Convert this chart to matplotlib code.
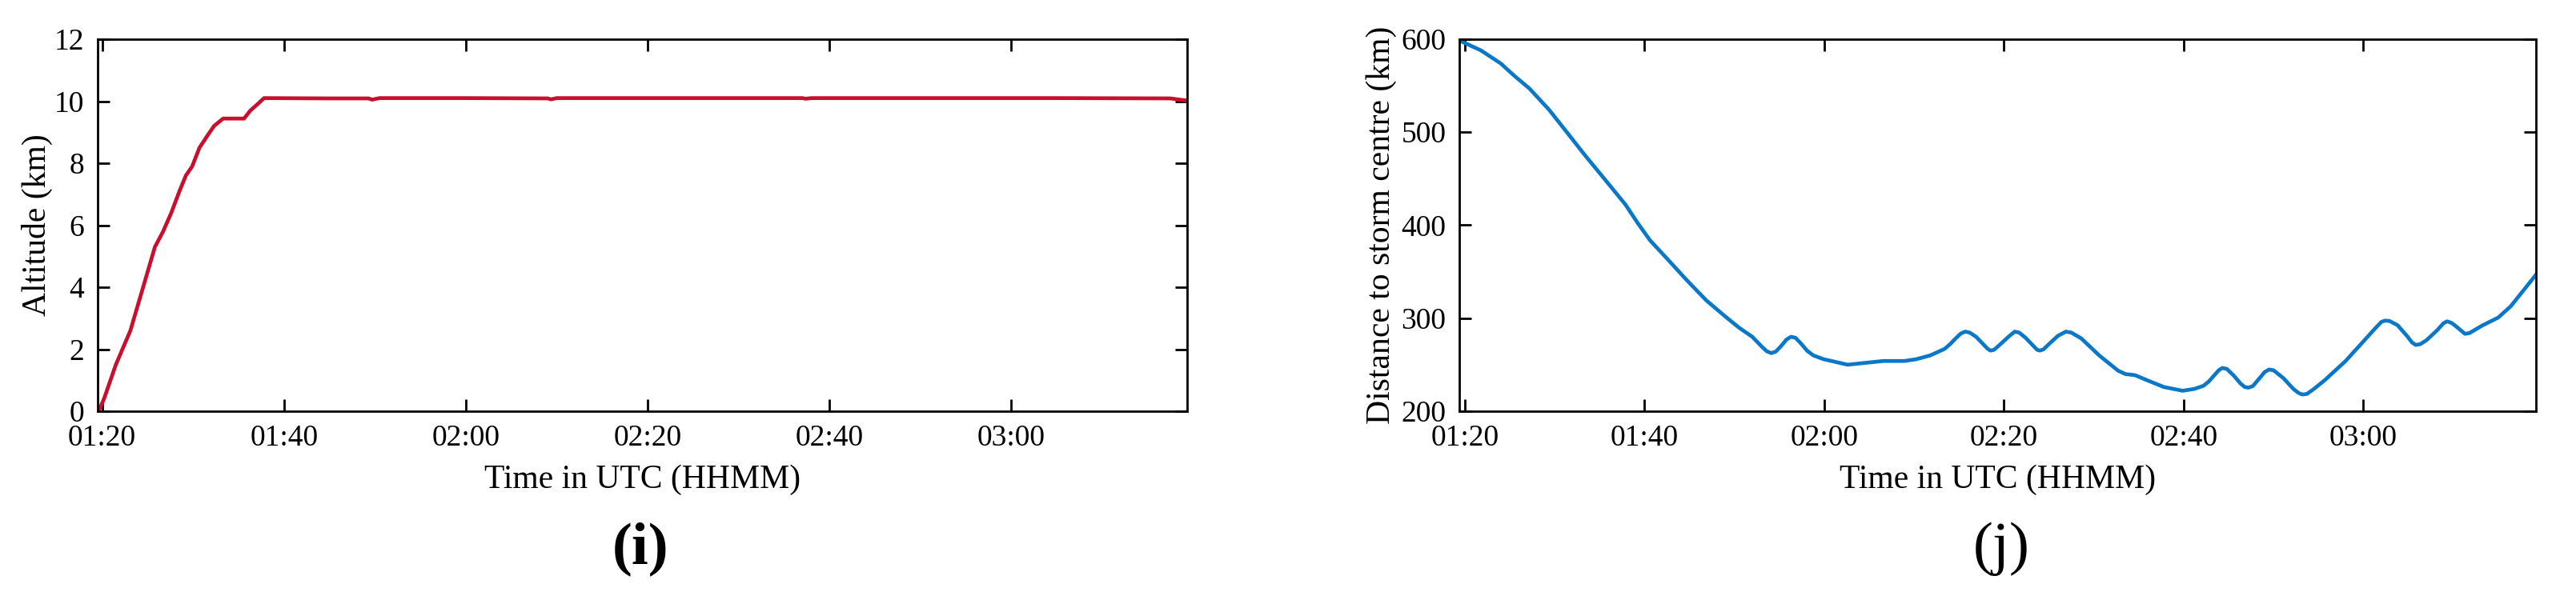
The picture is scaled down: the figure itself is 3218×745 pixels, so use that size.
import matplotlib
matplotlib.use("Agg")
import matplotlib.pyplot as plt

plt.rcParams['font.family'] = ['Liberation Serif', 'DejaVu Serif']

# ---- data (time in minutes after 00:00 UTC) ----
alt_time = [79.6, 80.2, 81.5, 83.1, 84.2, 85.8, 86.7, 87.6, 88.5, 89.2, 89.9, 90.7,
            91.6, 92.3, 93.3, 95.6, 96.3, 97.0, 97.8, 105.0, 109.3, 109.7, 110.5,
            120.0, 129.0, 129.4, 130.0, 140.0, 157.0, 157.4, 158.0, 170.0, 185.0,
            197.5, 199.3]
alt_km = [0.0, 0.4, 1.5, 2.6, 3.7, 5.3, 5.8, 6.4, 7.1, 7.6, 7.9, 8.5,
          8.9, 9.2, 9.44, 9.44, 9.7, 9.88, 10.1, 10.09, 10.09, 10.05, 10.1,
          10.1, 10.09, 10.06, 10.1, 10.1, 10.1, 10.08, 10.1, 10.1, 10.1,
          10.09, 10.02]

dist_time = [79.55, 81.8, 84.0, 85.6, 87.2, 89.4, 91.2, 93.4, 95.7, 97.9, 99.2, 100.6,
             102.9, 104.7, 106.9, 109.1, 110.5, 112.0, 113.0, 113.6, 114.1, 114.6,
             115.2, 115.8, 116.3, 116.8, 117.4, 118.1, 118.8, 119.9, 122.6, 126.6,
             128.9, 130.2, 131.8, 133.4, 134.0, 134.6, 135.2, 135.7, 136.2, 136.9,
             137.7, 138.2, 138.5, 138.9, 139.6, 140.5, 141.2, 141.7, 142.4, 143.2,
             143.7, 144.0, 144.4, 145.1, 146.0, 146.9, 147.5, 148.6, 150.6, 152.7,
             153.5, 154.6, 156.0, 157.8, 159.9, 161.2, 162.2, 162.8, 163.3, 163.9,
             164.3, 164.8, 165.6, 166.3, 166.8, 167.2, 167.7, 168.4, 169.0, 169.5,
             170.0, 171.1, 172.2, 172.8, 173.2, 173.7, 174.5, 175.7, 178.0, 180.3,
             181.3, 182.0, 182.4, 182.9, 183.8, 184.9, 185.4, 185.8, 186.3, 187.0,
             188.2, 188.9, 189.3, 189.8, 190.4, 191.3, 191.8, 193.2, 195.0, 196.4,
             199.3]
dist_km = [598, 588, 574, 560, 547, 524, 502, 475, 448, 422, 403, 384,
           360, 341, 319, 301, 290, 280, 270, 264.5, 262.5, 264,
           270, 277, 280, 279, 273, 265, 260, 256, 250, 254,
           254, 255.8, 260, 267, 272, 278, 283.5, 285.6, 284.5, 280,
           272, 267, 265.2, 266, 272, 280, 285.6, 284.5, 279, 271,
           266, 265.2, 266.5, 273, 281, 285.6, 284.5, 278.3, 260, 243.6,
           240, 238.7, 233, 226, 222, 224, 227.3, 232, 237.5, 244,
           246.5, 245.5, 238, 230, 226, 225.3, 227, 235, 242, 244.8,
           244, 235.5, 224, 219.5, 218, 218.5, 224, 233.4, 253.8, 278.3,
           289, 296, 297.4, 297, 292.5, 280.3, 274, 271.3, 272, 276.2,
           287, 294.5, 296.6, 295, 290.5, 283.2, 284, 292, 300.7, 312.9,
           348]

x_ticks = [80, 100, 120, 140, 160, 180]
x_ticklabels = ["01:20", "01:40", "02:00", "02:20", "02:40", "03:00"]
alt_yticks = [0, 2, 4, 6, 8, 10, 12]
dist_yticks = [200, 300, 400, 500, 600]

RED = "#C8102E"
BLUE = "#0A78C8"

fig = plt.figure(figsize=(3218 / 200, 745 / 200), dpi=200)
ax1 = fig.add_axes([122 / 3218, 1 - 514 / 745, 1361 / 3218, 465 / 745])
ax2 = fig.add_axes([1823 / 3218, 1 - 514 / 745, 1345 / 3218, 465 / 745])

ax1.plot(alt_time, alt_km, color=RED, lw=1.7, solid_joinstyle='round')
ax2.plot(dist_time, dist_km, color=BLUE, lw=1.7, solid_joinstyle='round')

ax1.set_xlim(79.5, 199.35)
ax1.set_ylim(0, 12)
ax2.set_xlim(79.4, 199.2)
ax2.set_ylim(200, 600)
ax1.set_yticks(alt_yticks)
ax2.set_yticks(dist_yticks)

for ax in (ax1, ax2):
    ax.set_xticks(x_ticks)
    ax.set_xticklabels(x_ticklabels)
    ax.tick_params(direction='in', length=5.5, width=1.0, top=True, right=True,
                   labelsize=13.5, pad=6, colors='black')
    for s in ax.spines.values():
        s.set_linewidth(1.0)
    ax.set_xlabel("Time in UTC (HHMM)", fontsize=15, va='center')
    ax.xaxis.set_label_coords(0.5, -0.185)

ax1.set_ylabel("Altitude (km)", fontsize=15, va='center')
ax1.yaxis.set_label_coords(-0.0558, 0.5)
ax2.set_ylabel("Distance to storm centre (km)", fontsize=15, va='center')
ax2.yaxis.set_label_coords(-0.0721, 0.5)

fig.text(800 / 3218, 1 - 686 / 745, "(i)", fontsize=27, fontweight='bold',
         ha='center', va='center')
fig.text(2500 / 3218, 1 - 686 / 745, "(j)", fontsize=27,
         ha='center', va='center')

fig.savefig("out.png", dpi=200)
